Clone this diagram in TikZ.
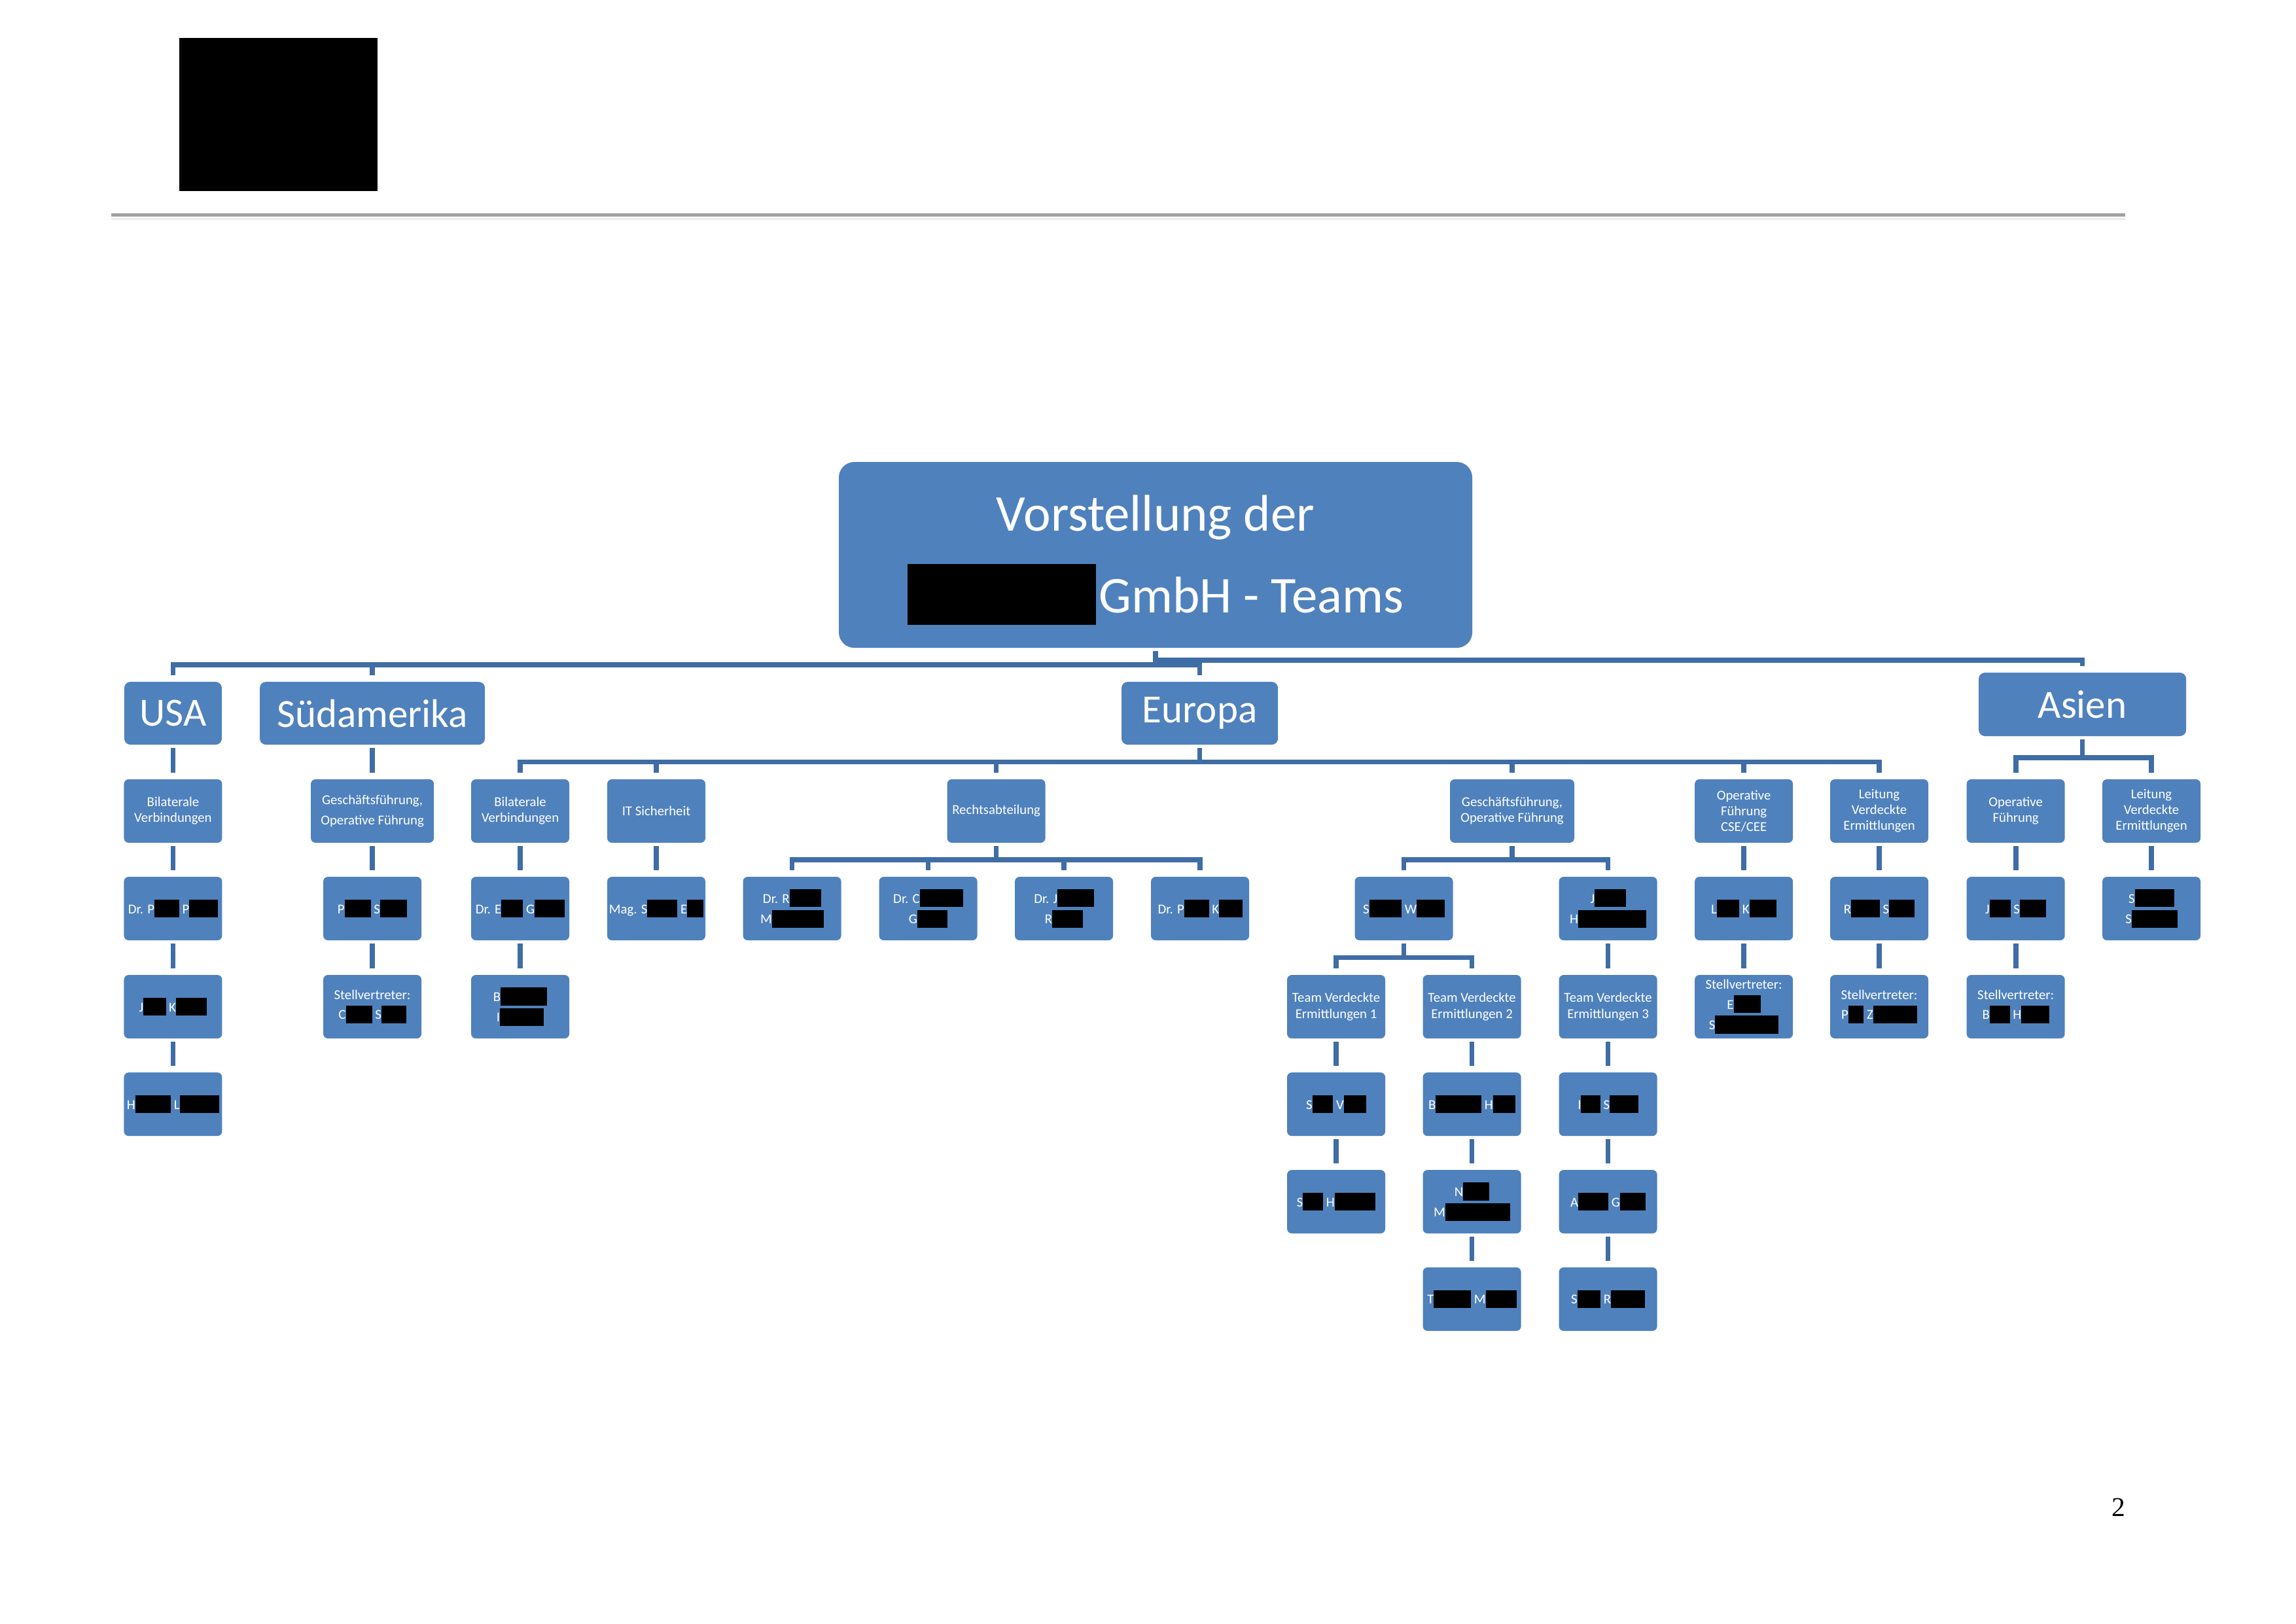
\documentclass[tikz,border=0pt]{standalone}
\usepackage{fontspec}
\setmainfont{Carlito}
\newfontfamily\pagefont{Liberation Serif}
\usetikzlibrary{calc}
\definecolor{boxblue}{HTML}{4F81BD}
\definecolor{linkblue}{HTML}{3F6DA5}
\definecolor{rulegray}{HTML}{A0A0A0}
\newcommand{\blk}[1]{{\color{black}\rule[-1.5pt]{#1}{6.6pt}}}

\begin{document}
\begin{tikzpicture}[
  unit/.style={fill=boxblue, rounded corners=0.6mm, text=white, align=center, inner sep=0pt, minimum width=1.27cm, minimum height=0.821cm, font=\fontsize{5}{5.8}\selectfont},
  region/.style={unit, rounded corners=0.8mm, minimum height=0.813cm, font=\fontsize{14.7}{17}\selectfont},
  headline/.style={unit, rounded corners=2mm, minimum width=8.196cm, minimum height=2.405cm, font=\fontsize{19}{30}\selectfont},
  link/.style={draw=linkblue, line width=0.65mm, shorten <=0.35mm, shorten >=0.75mm,
    to path={|- ($(\tikztostart)!0.5!(\tikztotarget)$) -| (\tikztotarget)}}
]
  \fill[white] (0,0) rectangle (29.709,-21.006);
  \useasboundingbox (0,0) rectangle (29.709,-21.006);

  % page head
  \node[fill=black, inner sep=0pt, minimum width=2.565cm, minimum height=1.981cm] (logo) at (3.6025,-1.4815) {};
  \draw[gray!15, line width=0.3mm] (1.439,-2.83) -- (27.5,-2.83);
  \draw[rulegray, line width=0.42mm] (1.439,-2.781) -- (27.5,-2.781);
  \node[font=\pagefont\fontsize{10}{12}\selectfont] (pagenum) at (27.415,-19.507) {2};

  % title and regions
  \node[headline] (top) at (14.952,-7.180) {\rule{0pt}{0.6cm}Vorstellung der\\{\color{black}\rule[-0.16cm]{2.44cm}{0.79cm}}\hspace{0.4mm}GmbH - Teams};
  \node[region, minimum width=1.262cm] (usa) at (2.239,-9.229) {USA};
  \node[region, minimum width=2.913cm] (sud) at (4.818,-9.229) {Südamerika};
  \node[region, minimum width=2.024cm] (eur) at (15.524,-9.229) {Europa};
  \node[region, minimum width=2.684cm, minimum height=0.821cm] (asia) at (26.945,-9.114) {Asien};

  % USA
  \node[unit] (usaBV) at (2.239,-10.494) {Bilaterale\\Verbindungen};
  \node[unit] (usaP) at (2.239,-11.756) {Dr. P\blk{3.2mm} P\blk{3.7mm}};
  \node[unit] (usaK) at (2.239,-13.026) {J\blk{2.9mm} K\blk{4mm}};
  \node[unit] (usaL) at (2.239,-14.288) {H\blk{4.6mm} L\blk{5.1mm}};

  % Suedamerika
  \node[unit, minimum width=1.592cm] (sudGF) at (4.818,-10.494) {Geschäftsführung,\\[1.5pt]Operative Führung};
  \node[unit] (sudS) at (4.818,-11.756) {P\blk{3.4mm} S\blk{3.5mm}};
  \node[unit] (sudSt) at (4.818,-13.026) {Stellvertreter:\\[1.5pt]C\blk{3.4mm} S\blk{3.2mm}};

  % Europa
  \node[unit] (euBV) at (6.731,-10.494) {Bilaterale\\Verbindungen};
  \node[unit] (euG) at (6.731,-11.756) {Dr. E\blk{2.8mm} G\blk{3.9mm}};
  \node[unit] (euB) at (6.731,-13.026) {B\blk{6mm}\\I\blk{5.7mm}};
  \node[unit] (euIT) at (8.492,-10.494) {IT Sicherheit};
  \node[unit] (euE) at (8.492,-11.756) {Mag. S\blk{3.9mm} E\blk{2.1mm}};
  \node[unit] (euRA) at (12.891,-10.494) {Rechtsabteilung};
  \node[unit] (ra1) at (10.249,-11.756) {Dr. R\blk{4.1mm}\\M\blk{6.7mm}};
  \node[unit] (ra2) at (12.010,-11.756) {Dr. C\blk{5.6mm}\\G\blk{3.9mm}};
  \node[unit] (ra3) at (13.767,-11.756) {Dr. J\blk{4.7mm}\\R\blk{4mm}};
  \node[unit] (ra4) at (15.528,-11.756) {Dr. P\blk{3.2mm} K\blk{3mm}};
  \node[unit, minimum width=1.609cm] (euGF) at (19.566,-10.494) {Geschäftsführung,\\Operative Führung};
  \node[unit] (gfW) at (18.165,-11.756) {S\blk{4.2mm} W\blk{3.6mm}};
  \node[unit] (gfH) at (20.807,-11.756) {J\blk{4mm}\\H\blk{8.8mm}};
  \node[unit] (team1) at (17.289,-13.026) {Team Verdeckte\\Ermittlungen 1};
  \node[unit] (team2) at (19.046,-13.026) {Team Verdeckte\\Ermittlungen 2};
  \node[unit] (team3) at (20.807,-13.026) {Team Verdeckte\\Ermittlungen 3};
  \node[unit] (t1a) at (17.289,-14.288) {S\blk{2.7mm} V\blk{2.9mm}};
  \node[unit] (t1b) at (17.289,-15.549) {S\blk{2.6mm} H\blk{5.3mm}};
  \node[unit] (t2a) at (19.046,-14.288) {B\blk{5.9mm} H\blk{2.9mm}};
  \node[unit] (t2b) at (19.046,-15.549) {N\blk{3.4mm}\\M\blk{8.4mm}};
  \node[unit] (t2c) at (19.046,-16.810) {T\blk{4.8mm} M\blk{4mm}};
  \node[unit] (t3a) at (20.807,-14.288) {I\blk{2.5mm} S\blk{3.7mm}};
  \node[unit] (t3b) at (20.807,-15.549) {A\blk{3.9mm} G\blk{3.3mm}};
  \node[unit] (t3c) at (20.807,-16.810) {S\blk{3mm} R\blk{4.4mm}};
  \node[unit] (euCSE) at (22.564,-10.494) {Operative\\Führung\\CSE/CEE};
  \node[unit] (cseK) at (22.564,-11.756) {L\blk{2.9mm} K\blk{3.5mm}};
  \node[unit] (cseSt) at (22.564,-13.026) {Stellvertreter:\\[1.5pt]E\blk{3.5mm}\\S\blk{8.2mm}};
  \node[unit] (euLVE) at (24.316,-10.494) {Leitung\\Verdeckte\\Ermittlungen};
  \node[unit] (lveS) at (24.316,-11.756) {R\blk{3.7mm} S\blk{3.3mm}};
  \node[unit] (lveSt) at (24.316,-13.026) {Stellvertreter:\\[1.5pt]P\blk{2mm} Z\blk{5.7mm}};

  % Asien
  \node[unit] (asOF) at (26.082,-10.494) {Operative\\Führung};
  \node[unit] (asS) at (26.082,-11.756) {J\blk{2.7mm} S\blk{3.4mm}};
  \node[unit] (asSt) at (26.082,-13.026) {Stellvertreter:\\[1.5pt]B\blk{2.6mm} H\blk{3.6mm}};
  \node[unit] (asLV) at (27.838,-10.494) {Leitung\\Verdeckte\\Ermittlungen};
  \node[unit] (asSS) at (27.838,-11.756) {S\blk{5.1mm}\\S\blk{5.9mm}};

  % connectors
  \draw[link] (top.south) to (usa.north);
  \draw[link] (top.south) to (sud.north);
  \draw[link] (top.south) to (eur.north);
  \draw[link] (top.south) to (asia.north);

  \draw[link] (usa.south) to (usaBV.north);
  \draw[link] (usaBV.south) to (usaP.north);
  \draw[link] (usaP.south) to (usaK.north);
  \draw[link] (usaK.south) to (usaL.north);

  \draw[link] (sud.south) to (sudGF.north);
  \draw[link] (sudGF.south) to (sudS.north);
  \draw[link] (sudS.south) to (sudSt.north);

  \draw[link] (eur.south) to (euBV.north);
  \draw[link] (eur.south) to (euIT.north);
  \draw[link] (eur.south) to (euRA.north);
  \draw[link] (eur.south) to (euGF.north);
  \draw[link] (eur.south) to (euCSE.north);
  \draw[link] (eur.south) to (euLVE.north);
  \draw[link] (euBV.south) to (euG.north);
  \draw[link] (euG.south) to (euB.north);
  \draw[link] (euIT.south) to (euE.north);
  \draw[link] (euRA.south) to (ra1.north);
  \draw[link] (euRA.south) to (ra2.north);
  \draw[link] (euRA.south) to (ra3.north);
  \draw[link] (euRA.south) to (ra4.north);
  \draw[link] (euGF.south) to (gfW.north);
  \draw[link] (euGF.south) to (gfH.north);
  \draw[link] (gfW.south) to (team1.north);
  \draw[link] (gfW.south) to (team2.north);
  \draw[link] (gfH.south) to (team3.north);
  \draw[link] (team1.south) to (t1a.north);
  \draw[link] (t1a.south) to (t1b.north);
  \draw[link] (team2.south) to (t2a.north);
  \draw[link] (t2a.south) to (t2b.north);
  \draw[link] (t2b.south) to (t2c.north);
  \draw[link] (team3.south) to (t3a.north);
  \draw[link] (t3a.south) to (t3b.north);
  \draw[link] (t3b.south) to (t3c.north);
  \draw[link] (euCSE.south) to (cseK.north);
  \draw[link] (cseK.south) to (cseSt.north);
  \draw[link] (euLVE.south) to (lveS.north);
  \draw[link] (lveS.south) to (lveSt.north);

  \draw[link] (asia.south) to (asOF.north);
  \draw[link] (asia.south) to (asLV.north);
  \draw[link] (asOF.south) to (asS.north);
  \draw[link] (asS.south) to (asSt.north);
  \draw[link] (asLV.south) to (asSS.north);
\end{tikzpicture}
\end{document}
